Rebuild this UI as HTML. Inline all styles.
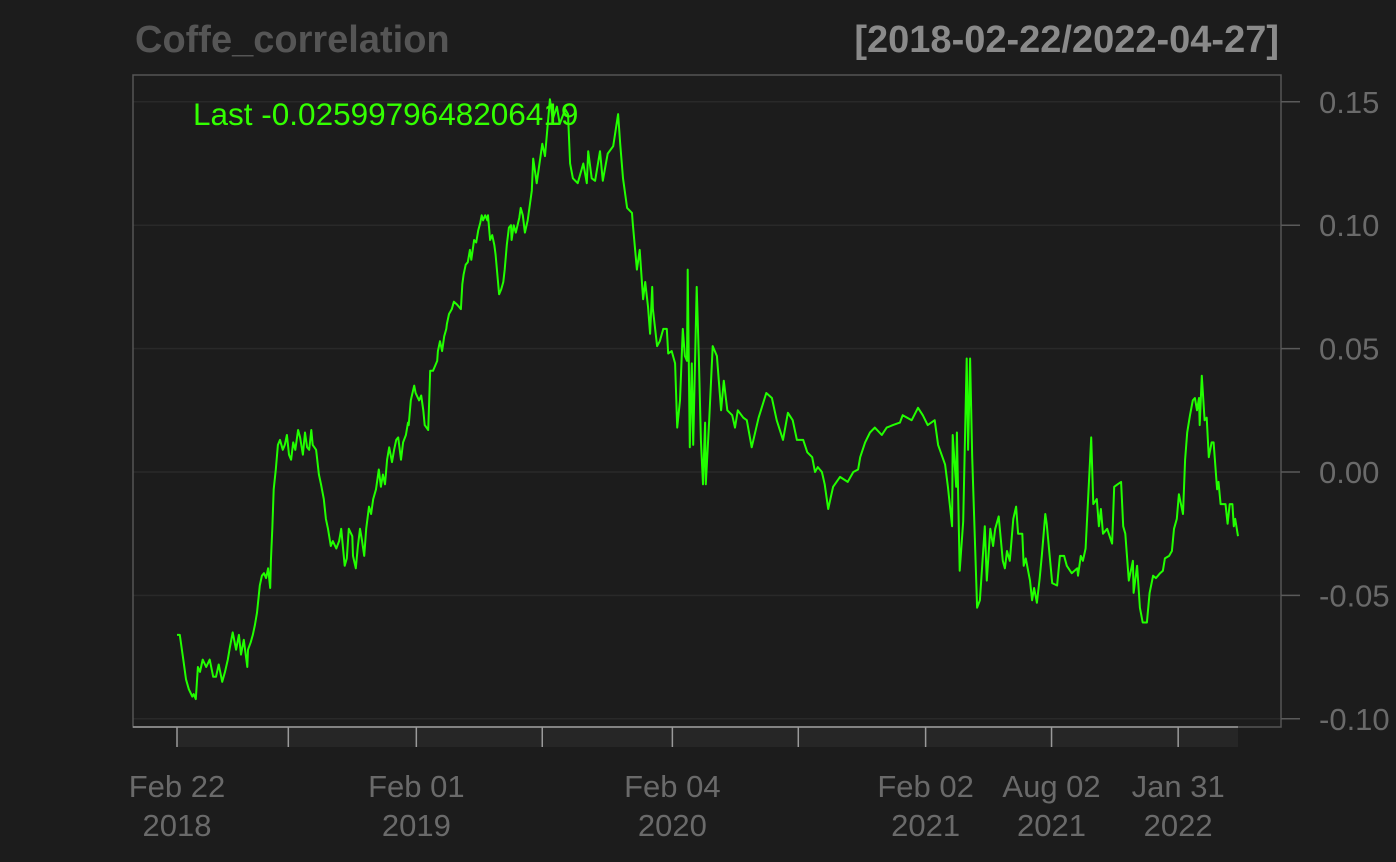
<!DOCTYPE html>
<html><head><meta charset="utf-8"><style>
html,body{margin:0;padding:0;background:#1c1c1c;}
svg{display:block;font-family:"Liberation Sans",sans-serif;}
</style></head><body>
<svg id="chart" width="1396" height="862" viewBox="0 0 1396 862">
<rect x="0" y="0" width="1396" height="862" fill="#1c1c1c"/>
<text x="135" y="52" font-size="38" font-weight="bold" fill="#555555">Coffe_correlation</text>
<text x="1279" y="52" font-size="38" font-weight="bold" fill="#8a8a8a" text-anchor="end">[2018-02-22/2022-04-27]</text>
<g id="grid"></g>
<g id="xaxis"></g>
<g id="yaxis"></g>
<g id="series"></g>
<text x="193" y="125" font-size="31.5" fill="#33ff00">Last -0.0259979648206419</text>
</svg>
<script>
const yTicks=[0.15,0.10,0.05,0.00,-0.05,-0.10];
const yTickLabels=["0.15","0.10","0.05","0.00","-0.05","-0.10"];
const xTickDays=[0,160,344,525,712,893,1076,1257,1439];
const xTickLine1=["Feb 22","","Feb 01","","Feb 04","","Feb 02","Aug 02","Jan 31"];
const xTickLine2=["2018","","2019","","2020","","2021","2021","2022"];
const days=[0,4,9,13,17,22,24,27,30,33,37,42,47,52,56,60,65,69,73,76,80,85,89,92,96,101,102,106,109,112,115,119,122,125,128,131,134,135,137,139,142,145,148,152,155,158,161,164,167,170,174,177,181,184,187,190,193,195,200,204,207,211,214,217,221,224,229,233,236,239,241,244,247,252,253,257,260,263,266,269,272,276,279,282,286,290,293,296,299,302,305,309,312,315,318,322,325,329,332,333,336,341,343,348,351,354,356,361,364,368,371,374,375,378,381,384,387,388,391,395,398,402,405,408,410,412,415,418,421,423,427,430,433,436,438,440,443,446,447,450,453,456,458,463,466,469,471,474,477,480,481,484,487,492,494,497,500,504,510,512,517,525,529,536,540,546,550,558,562,565,569,576,584,589,591,596,601,608,612,619,627,634,637,641,647,654,655,661,665,670,673,677,680,683,684,690,694,699,704,706,711,716,719,723,727,730,733,734,737,740,742,747,750,753,756,759,760,765,770,776,782,786,791,798,802,806,814,819,826,836,847,855,862,871,878,885,891,900,906,913,917,921,927,931,936,943,953,964,972,979,982,989,996,1003,1013,1020,1029,1039,1043,1056,1065,1072,1079,1089,1094,1104,1108,1114,1115,1120,1121,1125,1130,1135,1137,1140,1143,1150,1154,1161,1164,1169,1173,1176,1181,1187,1190,1193,1197,1202,1206,1209,1215,1217,1220,1226,1229,1232,1236,1240,1243,1248,1250,1258,1265,1269,1275,1279,1286,1294,1295,1299,1302,1306,1309,1314,1317,1322,1325,1328,1331,1337,1344,1347,1352,1357,1360,1363,1368,1374,1375,1380,1384,1388,1394,1398,1403,1407,1413,1417,1420,1426,1430,1433,1437,1440,1446,1449,1452,1456,1460,1463,1466,1469,1470,1473,1477,1480,1483,1487,1490,1495,1497,1500,1507,1510,1513,1517,1519,1521,1525];
const values=[-0.066,-0.066,-0.076,-0.084,-0.088,-0.091,-0.090,-0.092,-0.079,-0.081,-0.076,-0.079,-0.076,-0.083,-0.083,-0.078,-0.085,-0.081,-0.076,-0.071,-0.065,-0.072,-0.066,-0.074,-0.068,-0.079,-0.072,-0.069,-0.066,-0.062,-0.057,-0.046,-0.042,-0.041,-0.043,-0.039,-0.047,-0.036,-0.023,-0.007,0.001,0.011,0.013,0.009,0.011,0.015,0.007,0.005,0.012,0.009,0.017,0.014,0.007,0.016,0.010,0.009,0.017,0.011,0.009,-0.001,-0.005,-0.011,-0.019,-0.023,-0.030,-0.028,-0.031,-0.028,-0.023,-0.032,-0.038,-0.035,-0.023,-0.026,-0.034,-0.039,-0.030,-0.023,-0.028,-0.034,-0.023,-0.014,-0.017,-0.011,-0.007,0.001,-0.006,-0.001,-0.005,0.005,0.010,0.004,0.009,0.013,0.014,0.005,0.012,0.015,0.020,0.019,0.029,0.035,0.032,0.029,0.031,0.025,0.019,0.017,0.041,0.041,0.043,0.045,0.049,0.053,0.049,0.055,0.058,0.060,0.064,0.066,0.069,0.068,0.067,0.066,0.076,0.080,0.084,0.085,0.090,0.086,0.094,0.093,0.098,0.101,0.104,0.102,0.104,0.102,0.104,0.094,0.096,0.092,0.088,0.072,0.074,0.077,0.082,0.092,0.099,0.100,0.094,0.100,0.097,0.103,0.107,0.104,0.097,0.102,0.114,0.127,0.117,0.133,0.128,0.151,0.143,0.148,0.141,0.147,0.145,0.125,0.119,0.117,0.125,0.117,0.130,0.119,0.118,0.130,0.118,0.129,0.132,0.145,0.133,0.119,0.107,0.105,0.101,0.082,0.090,0.070,0.077,0.067,0.056,0.075,0.066,0.051,0.053,0.058,0.058,0.048,0.049,0.044,0.018,0.029,0.058,0.047,0.045,0.082,0.010,0.044,0.011,0.075,0.047,0.013,-0.005,0.020,-0.005,0.021,0.051,0.047,0.025,0.037,0.025,0.023,0.018,0.025,0.022,0.021,0.010,0.022,0.032,0.030,0.021,0.013,0.024,0.021,0.013,0.013,0.008,0.006,0.000,0.002,0.000,-0.005,-0.015,-0.006,-0.002,-0.004,0.000,0.001,0.006,0.012,0.016,0.018,0.015,0.018,0.019,0.020,0.023,0.021,0.026,0.023,0.019,0.021,0.011,0.003,-0.006,-0.022,0.015,-0.006,0.016,-0.040,-0.020,0.046,0.009,0.046,0.006,-0.055,-0.052,-0.022,-0.044,-0.023,-0.030,-0.023,-0.018,-0.036,-0.039,-0.032,-0.036,-0.019,-0.014,-0.025,-0.025,-0.038,-0.035,-0.044,-0.052,-0.047,-0.053,-0.043,-0.034,-0.017,-0.021,-0.045,-0.046,-0.034,-0.034,-0.038,-0.041,-0.039,-0.042,-0.034,-0.036,-0.031,-0.014,0.014,-0.013,-0.011,-0.022,-0.015,-0.025,-0.023,-0.029,-0.006,-0.005,-0.004,-0.022,-0.025,-0.044,-0.036,-0.049,-0.038,-0.055,-0.061,-0.061,-0.049,-0.042,-0.043,-0.041,-0.040,-0.035,-0.034,-0.032,-0.023,-0.019,-0.009,-0.017,0.005,0.016,0.023,0.029,0.030,0.025,0.030,0.019,0.039,0.021,0.022,0.006,0.012,0.012,-0.007,-0.004,-0.013,-0.013,-0.021,-0.013,-0.013,-0.022,-0.019,-0.026];

const NS="http://www.w3.org/2000/svg";
const X0=177,X1=1238,D1=1525;
const xs=d=>X0+(d/D1)*(X1-X0);
const ys=v=>472-v*2468;
function mk(tag,attrs,parent){const e=document.createElementNS(NS,tag);for(const k in attrs)e.setAttribute(k,attrs[k]);parent.appendChild(e);return e;}
const grid=document.getElementById('grid'),xa=document.getElementById('xaxis'),ya=document.getElementById('yaxis'),ser=document.getElementById('series');

yTicks.forEach((t,i)=>{
  const y=ys(t);
  const g=mk('line',{x1:133,x2:1280,y1:y,y2:y,stroke:'#292929','stroke-width':1.5},grid);
  
  
  const tk=mk('line',{x1:1281,x2:1300,y1:y,y2:y,stroke:'#5a5a5a','stroke-width':1.5},ya);
  
  
  const tx=mk('text',{x:1319,y:y+11,'font-size':31,fill:'#6a6a6a'},ya);
  tx.textContent=yTickLabels[i];
  
  
});
const box=mk('rect',{x:133,y:75,width:1148,height:652,fill:'none',stroke:'#555555','stroke-width':1.5},grid);


const bar=mk('rect',{x:X0,y:728,width:X1-X0,height:19,fill:'#262626'},xa);


const bl=mk('line',{x1:133,x2:X1,y1:727,y2:727,stroke:'#9a9a9a','stroke-width':1.5},xa);


xTickDays.forEach((d,i)=>{
  const x=xs(d);
  const t=mk('line',{x1:x,x2:x,y1:727,y2:747,stroke:'#9a9a9a','stroke-width':1.5},xa);
  
  
  if(xTickLine1[i]){
    const a=mk('text',{x:x,y:797,'font-size':31,fill:'#6a6a6a','text-anchor':'middle'},xa);
    a.textContent=xTickLine1[i];
    
    
    const b=mk('text',{x:x,y:836,'font-size':31,fill:'#6a6a6a','text-anchor':'middle'},xa);
    b.textContent=xTickLine2[i];
    
    
  }
});
const pts=days.map((d,i)=>xs(d).toFixed(1)+','+ys(values[i]).toFixed(1)).join(' ');
const line=mk('polyline',{points:pts,fill:'none',stroke:'#22ff00','stroke-width':2,'stroke-linejoin':'round'},ser);


</script>
</body></html>
